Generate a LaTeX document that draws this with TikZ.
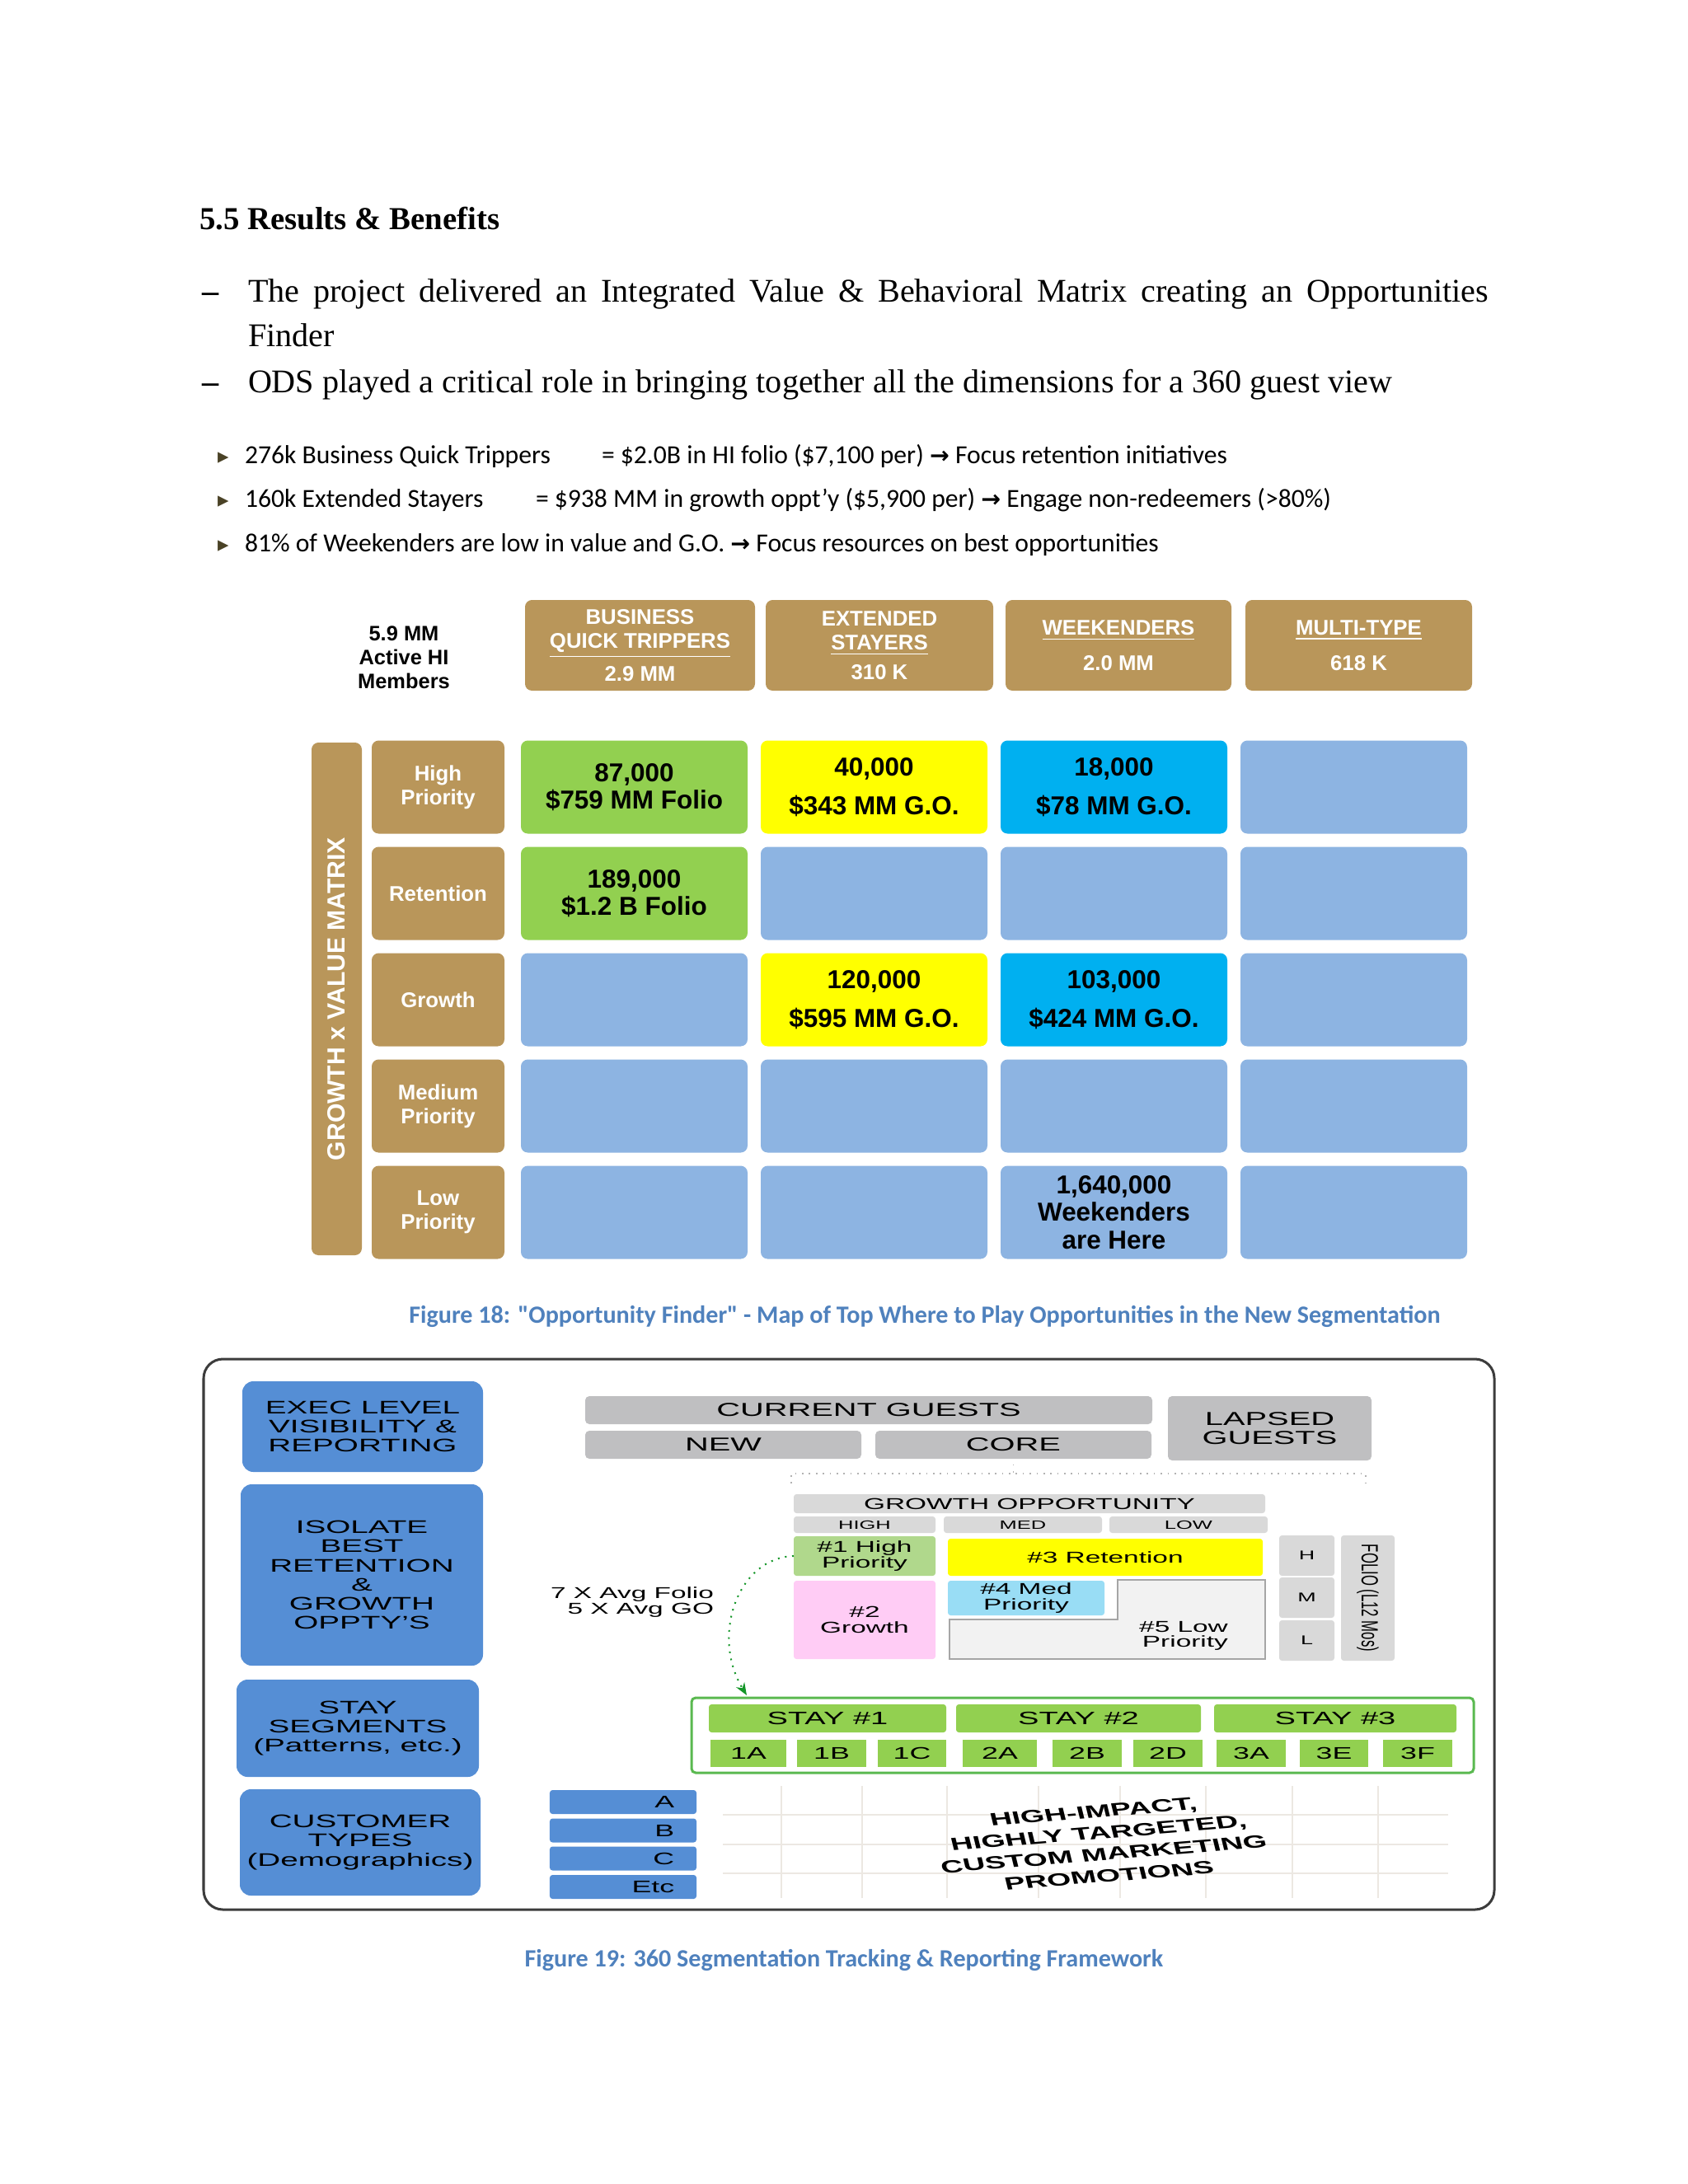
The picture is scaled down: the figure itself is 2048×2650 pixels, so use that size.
\documentclass[tikz,border=0pt]{standalone}
\usepackage{fontspec}
\setmainfont{Liberation Serif}
\newfontfamily\arialf{Liberation Sans}
\newfontfamily\widef[FakeStretch=1.75]{Liberation Sans}
\newfontfamily\calif[Ligatures=TeXOff]{Carlito}
\newfontfamily\dejaf{DejaVu Sans}
\usetikzlibrary{arrows.meta,chains,positioning}

\definecolor{gold}{RGB}{185,150,90}
\definecolor{cellblue}{RGB}{141,180,226}
\definecolor{cellgreen}{RGB}{146,208,80}
\definecolor{cellyellow}{RGB}{255,255,0}
\definecolor{cellcyan}{RGB}{0,176,240}
\definecolor{capblue}{RGB}{79,129,189}
\definecolor{bluebox}{RGB}{85,142,213}
\definecolor{boxgray}{RGB}{191,191,193}
\definecolor{boxlight}{RGB}{217,217,217}
\definecolor{prioone}{RGB}{176,216,140}
\definecolor{priotwo}{RGB}{255,204,245}
\definecolor{priofour}{RGB}{153,221,245}
\definecolor{priofive}{RGB}{242,242,242}
\definecolor{bulletolive}{RGB}{74,66,38}
\definecolor{gridline}{RGB}{236,232,226}
\definecolor{arrowgreen}{RGB}{20,150,40}
\definecolor{framegreen}{RGB}{90,185,80}
\definecolor{framegray}{RGB}{60,60,60}

\newcommand\findarrow{{\dejaf\bfseries\fontsize{8.5}{10}\selectfont →}}

\begin{document}
\begin{tikzpicture}[
  x=0.298828pt, y=-0.298828pt,
  every node/.style={inner sep=0pt, outer sep=0pt},
  wh/.style 2 args={minimum width=#1*0.298828pt, minimum height=#2*0.298828pt},
  body/.style={anchor=base west, font=\fontsize{12}{14}\selectfont},
  note/.style={anchor=base west, font=\calif\fontsize{9.45}{11}\selectfont},
  caption/.style={font=\calif\bfseries\fontsize{9}{11}\selectfont, text=capblue},
  head/.style={fill=gold, rounded corners=2.5pt, text=white, align=center,
    font=\arialf\bfseries\fontsize{7.7}{8.7}\selectfont},
  cell/.style={fill=cellblue, rounded corners=2.5pt, wh={275}{113}, align=center,
    font=\arialf\bfseries\fontsize{9.4}{10}\selectfont},
  side/.style={fill=bluebox, rounded corners=4pt, align=center,
    font=\widef\fontsize{6.6}{6.9}\selectfont},
  guest/.style={fill=boxgray, rounded corners=1.5pt, align=center,
    font=\widef\fontsize{6.8}{6.8}\selectfont},
  grid19/.style={fill=boxlight, rounded corners=1pt, align=center,
    font=\widef\fontsize{5.7}{5.6}\selectfont},
  stayhead/.style={fill=cellgreen, rounded corners=1pt, wh={#1}{34},
    font=\widef\fontsize{6.5}{8}\selectfont},
  staysub/.style={fill=cellgreen, font=\widef\fontsize{6.1}{8}\selectfont},
  ctype/.style={fill=bluebox, rounded corners=1pt, text width=37.2pt, inner xsep=8pt,
    align=right, minimum height=29*0.298828pt, font=\widef\fontsize{6.1}{8}\selectfont},
  bracket/.style={draw=gray!60, dotted, line width=0.5pt},
  gridl/.style={draw=gridline, line width=0.6pt}
]
  \useasboundingbox (0,0) rectangle (2048,2650);

  % section text
  \node[body, font=\bfseries\fontsize{11.6}{14}\selectfont] (title) at (242,278) {5.5 Results \& Benefits};
  \node[body] (dashA) at (245,366) {\textbf{\textendash}};
  \node[body] (lineA) at (301,366) {\makebox[449.7pt][s]{The project delivered an Integrated Value \& Behavioral Matrix creating an Opportunities}};
  \node[body] (lineAb) at (301,420) {Finder};
  \node[body] (dashB) at (245,476) {\textbf{\textendash}};
  \node[body] (lineB) at (301,476) {ODS played a critical role in bringing together all the dimensions for a 360 guest view};

  % key findings
  \foreach \i/\yy in {1/562,2/615,3/669}
    \node[anchor=base west, text=bulletolive, font=\dejaf\fontsize{8}{10}\selectfont] (tri\i) at (264,\yy) {▸};
  \node[note] (bqtA) at (297,562) {276k Business Quick Trippers};
  \node[note] (bqtB) at (730,562) {= \$2.0B in HI folio (\$7,100 per) \findarrow{} Focus retention initiatives};
  \node[note] (extA) at (297,615) {160k Extended Stayers};
  \node[note] (extB) at (650,615) {= \$938 MM in growth oppt’y (\$5,900 per) \findarrow{} Engage non-redeemers (>80\%)};
  \node[note] (wkdA) at (297,669) {81\% of Weekenders are low in value and G.O. \findarrow{} Focus resources on best opportunities};

  % figure 18: opportunity finder
  \node[align=center, font=\arialf\bfseries\fontsize{7.6}{8.6}\selectfont] (members) at (490,798) {5.9 MM\\Active HI\\Members};
  \node[head, wh={279}{110}] (bqt) at (776.5,783) {BUSINESS\\\underline{QUICK TRIPPERS}\\[2pt]2.9 MM};
  \node[head, wh={276}{110}] (ext) at (1067,783) {EXTENDED\\\underline{STAYERS}\\[2pt]310 K};
  \node[head, wh={274}{110}] (wkd) at (1357,783) {\underline{WEEKENDERS}\\[4.2pt]2.0 MM};
  \node[head, wh={275}{110}] (mlt) at (1648.5,783) {\underline{MULTI-TYPE}\\[4.2pt]618 K};

  \node[head, rotate=90, wh={622}{61}, font=\arialf\bfseries\fontsize{9}{10}\selectfont] (gvm) at (408.5,1212) {GROWTH x VALUE MATRIX};
  \foreach \r/\lbl in {1/{High\\Priority},2/Retention,3/Growth,4/{Medium\\Priority},5/{Low\\Priority}}
    \node[head, wh={161}{113}] (row\r) at (531.5,{955+(\r-1)*129}) {\lbl};

  \foreach \r/\c in {1/4,2/2,2/3,2/4,3/1,3/4,4/1,4/2,4/3,4/4,5/1,5/2,5/4}
    \node[cell] (cell\r\c) at ({769.5+(\c-1)*291},{955+(\r-1)*129}) {};
  \node[cell, fill=cellgreen] (cell11) at (769.5,955) {87,000\\\$759 MM Folio};
  \node[cell, fill=cellyellow] (cell12) at (1060.5,955) {40,000\\[4pt]\$343 MM G.O.};
  \node[cell, fill=cellcyan] (cell13) at (1351.5,955) {18,000\\[4pt]\$78 MM G.O.};
  \node[cell, fill=cellgreen] (cell21) at (769.5,1084) {189,000\\\$1.2 B Folio};
  \node[cell, fill=cellyellow] (cell32) at (1060.5,1213) {120,000\\[4pt]\$595 MM G.O.};
  \node[cell, fill=cellcyan] (cell33) at (1351.5,1213) {103,000\\[4pt]\$424 MM G.O.};
  \node[cell] (cell53) at (1351.5,1471) {1,640,000\\Weekenders\\are Here};

  \node[caption] (capA) at (1122,1597) {Figure 18: "Opportunity Finder" - Map of Top Where to Play Opportunities in the New Segmentation};

  % figure 19: tracking framework
  \node[wh={1566}{668}, draw=framegray, line width=0.9pt, rounded corners=7pt] (frame) at (1030,1983) {};

  \node[side, wh={292}{110}] (exec) at (440,1731) {EXEC LEVEL\\VISIBILITY \&\\REPORTING};
  \node[side, wh={294}{220}] (isolate) at (439,1911) {ISOLATE\\BEST\\RETENTION\\\&\\GROWTH\\OPPTY’S};
  \node[side, wh={294}{118}] (segs) at (434,2097) {STAY\\SEGMENTS\\(Patterns, etc.)};
  \node[side, wh={292}{129}] (ctypes) at (437,2235.5) {CUSTOMER\\TYPES\\(Demographics)};

  \node[guest, wh={688}{34}] (current) at (1054,1711) {CURRENT GUESTS};
  \node[guest, wh={335}{34}] (new) at (877.5,1753) {NEW};
  \node[guest, wh={335}{34}] (core) at (1229.5,1753) {CORE};
  \node[guest, wh={247}{78}] (lapsed) at (1540.5,1733) {LAPSED\\GUESTS};

  \coordinate (brL) at (960,1800);
  \coordinate (brR) at (1657,1800);
  \draw[bracket] (brL) -- ++(0,-12) -| (brR);
  \draw[bracket] ([yshift=-2pt]core.south) -- ++(0,11);

  \node[grid19, wh={572}{23}] (growth) at (1249,1824.5) {GROWTH OPPORTUNITY};
  \foreach \t/\xx/\ww in {HIGH/1049/172,MED/1241/192,LOW/1442/192}
    \node[grid19, wh={\ww}{20}, font=\widef\fontsize{4.35}{5}\selectfont] (go\t) at (\xx,1850) {\t};
  \node[grid19, fill=prioone, wh={172}{48}] (pone) at (1049,1888) {\#1 High\\Priority};
  \node[grid19, fill=cellyellow, wh={382}{45}] (pthree) at (1341,1889.5) {\#3 Retention};
  \node[grid19, fill=priotwo, wh={172}{95}] (ptwo) at (1049,1965.5) {\#2\\Growth};
  \draw[fill=priofive, draw=gray!70, line width=0.5pt] (1356,1917) -- (1535,1917) -- (1535,2013)
    -- (1152,2013) -- (1152,1965) -- (1356,1965) -- cycle;
  \node[grid19, fill=priofour, wh={190}{42}] (pfour) at (1245,1939) {\#4 Med\\Priority};
  \node[align=right, font=\widef\fontsize{5.7}{5.6}\selectfont] (pfive) at (1436,1985) {\#5 Low\\Priority};

  \foreach \t/\yy in {H/1887.5,M/1938.5,L/1990.5}
    \node[grid19, wh={67}{49}, font=\widef\fontsize{4.6}{6}\selectfont] (fol\t) at (1585.5,\yy) {\t};
  \node[grid19, wh={65}{152}, font=\arialf\fontsize{5}{6}\selectfont] (folio) at (1659.5,1939)
    {\rotatebox{-90}{\scalebox{1}[1.7]{FOLIO (L12 Mos)}}};

  \node[anchor=east, align=right, font=\widef\fontsize{5.7}{5.6}\selectfont] (avg) at (866,1944) {7 X Avg Folio\\5 X Avg GO};

  \node[wh={949}{91}, draw=framegreen, line width=0.9pt, rounded corners=1.5pt] (stays) at (1313.5,2105.5) {};
  \node[stayhead=288] (stay1) at (1004,2085) {STAY \#1};
  \node[stayhead=297] (stay2) at (1308.5,2085) {STAY \#2};
  \node[stayhead=294] (stay3) at (1620,2085) {STAY \#3};
  \foreach \n/\xx/\ww in {1A/908/92,1B/1009/84,1C/1106.5/83,2A/1213/90,2B/1319/84,2D/1417/84,3A/1518/84,3E/1618.5/83,3F/1720/84}
    \node[staysub, wh={\ww}{33}] (sub\n) at (\xx,2127.5) {\n};

  \coordinate (stayin) at (906,2057);
  \draw[arrowgreen, dotted, line width=0.6pt, -{Stealth[length=4.5pt, width=3.5pt]}]
    (pone.west) .. controls (895,1890) and (862,1985) .. (stayin);

  \foreach \xx in {948,1046,1149,1260,1359,1463,1568,1672}
    \draw[gridl] (\xx,2167) -- (\xx,2303);
  \foreach \yy in {2202,2238,2273}
    \draw[gridl] (877,\yy) -- (1757,\yy);

  \foreach \t/\yy in {A/2186.5,B/2221,C/2255,Etc/2289.5}
    \node[ctype] (ct\t) at (756,\yy) {\t};

  \node[xscale=1.75, rotate=8, align=center, font=\arialf\bfseries\fontsize{6.4}{7.8}\selectfont] (promo) at (1336,2237)
    {HIGH-IMPACT,\\HIGHLY TARGETED,\\CUSTOM MARKETING\\PROMOTIONS};

  \node[caption] (capB) at (1024,2378) {Figure 19: 360 Segmentation Tracking \& Reporting Framework};
\end{tikzpicture}
\end{document}
